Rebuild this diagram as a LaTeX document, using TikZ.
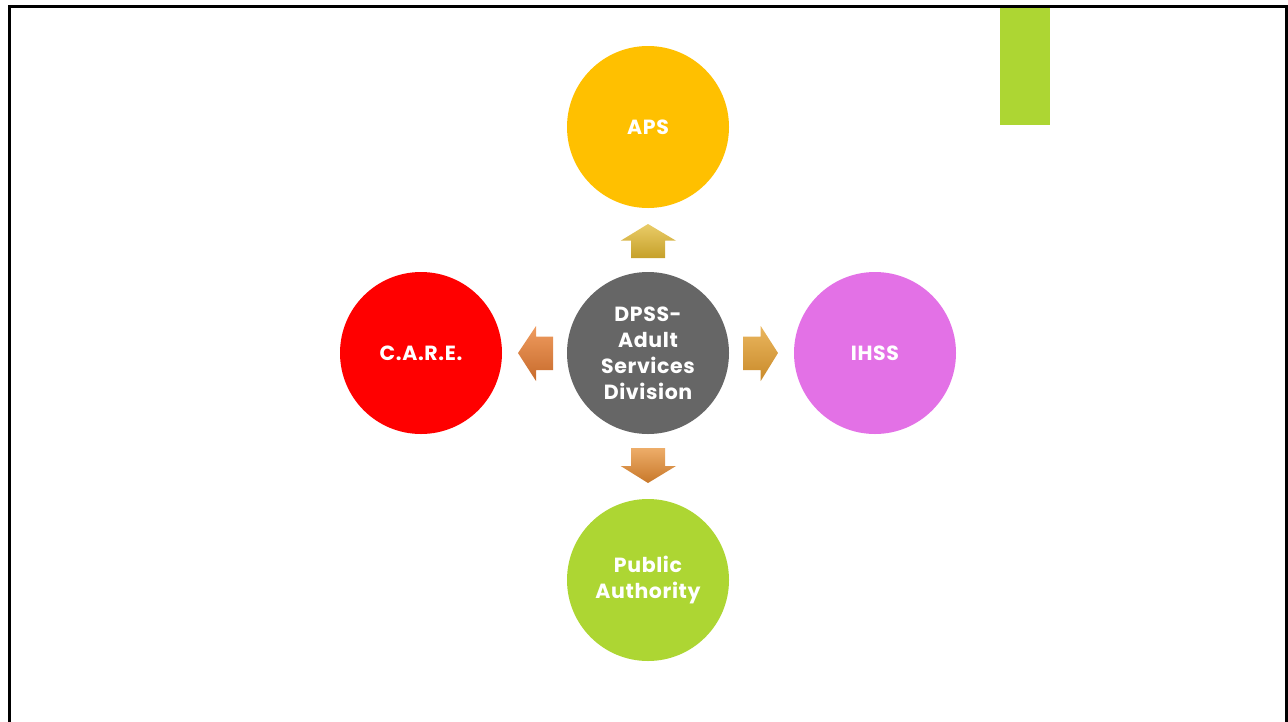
\documentclass[tikz,border=0pt]{standalone}
\usepackage{fontspec}
\setmainfont{Poppins}[LetterSpace=3]
\usetikzlibrary{calc}
\definecolor{apsY}{HTML}{FFC000}
\definecolor{dpssG}{HTML}{666666}
\definecolor{careR}{HTML}{FF0000}
\definecolor{ihssP}{HTML}{E371E6}
\definecolor{paG}{HTML}{ADD633}
\definecolor{upT}{HTML}{E9CC68}
\definecolor{upB}{HTML}{C6A02A}
\definecolor{lfT}{HTML}{EF9C60}
\definecolor{lfB}{HTML}{C76A2A}
\definecolor{rtT}{HTML}{EAB65E}
\definecolor{rtB}{HTML}{C98A2A}
\definecolor{dnT}{HTML}{EDAD69}
\definecolor{dnB}{HTML}{C8782A}
\tikzset{
  circ/.style={circle, minimum size=162pt, inner sep=0pt, text=white,
    font=\fontsize{20.5}{26}\selectfont\bfseries, align=center},
  frame/.style={line width=3pt, draw=black}
}
\begin{document}
\begin{tikzpicture}[x=1pt,y=-1pt]
\useasboundingbox (0,0) rectangle (1288,721);
\draw[frame] (9.5,722) -- (9.5,6) -- (1286,6) -- (1286,722);
\fill[paG] (1000,7.5) rectangle (1050,125);
\node[circ, fill=dpssG] (c) at (648,353) {DPSS-\\Adult\\Services\\Division};
\node[circ, fill=apsY] (aps) at (648,127) {APS};
\node[circ, fill=careR] (care) at (421,353) {C.A.R.E.};
\node[circ, fill=ihssP] (ihss) at (875,353) {IHSS};
\node[circ, fill=paG] (pa) at (648,580) {Public\\Authority};
% up arrow
\shade[top color=upT, bottom color=upB]
  (631,258) -- (631,240.7) -- (620.7,240.7) -- (648,224) -- (676,240.7) -- (665,240.7) -- (665,258) -- cycle;
% left arrow
\shade[top color=lfT, bottom color=lfB]
  (553,336.7) -- (536,336.7) -- (536,326) -- (518,353) -- (536,381) -- (536,370) -- (553,370) -- cycle;
% right arrow
\shade[top color=rtT, bottom color=rtB]
  (743,336.7) -- (760.7,336.7) -- (760.7,326) -- (778,353) -- (760.7,381) -- (760.7,370) -- (743,370) -- cycle;
% down arrow
\shade[top color=dnT, bottom color=dnB]
  (631,448) -- (665,448) -- (665,466) -- (676,466) -- (648,483) -- (620.7,466) -- (631,466) -- cycle;
\end{tikzpicture}
\end{document}
